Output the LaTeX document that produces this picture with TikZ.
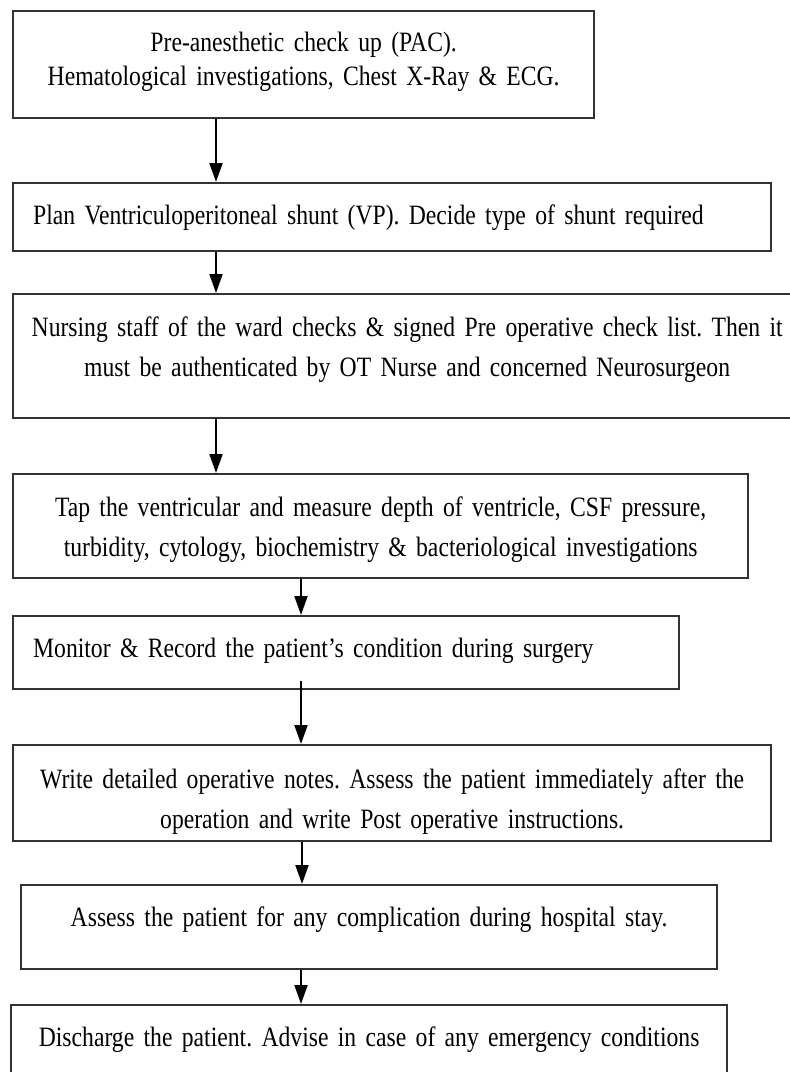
\documentclass[tikz,border=0pt]{standalone}
\usepackage{fontspec}
\setmainfont[FakeStretch=0.845, WordSpace=0.8]{Liberation Serif}
\usetikzlibrary{arrows.meta}

\tikzset{
  flowbox/.style={draw=black!80, line width=2.3pt, anchor=north west,
    inner ysep=0pt, font=\fontsize{28}{40}\selectfont\frenchspacing},
  midbox/.style={flowbox, inner xsep=10pt, align=center},
  leftbox/.style={flowbox, inner xsep=20pt, align=left},
  flowarrow/.style={line width=2pt, -{Triangle[length=19pt,width=13pt]}}
}

\begin{document}
\begin{tikzpicture}[x=1pt, y=-1pt]
  \useasboundingbox (0,0) rectangle (790,1072);

  % Steps
  \node[midbox, text width=561pt, text height=40pt, text depth=67pt] (pac) at (12,10)
    {Pre-anesthetic check up (PAC).\\[-5.5pt]Hematological investigations, Chest X-Ray \& ECG.};
  \node[leftbox, text width=718pt, text height=41pt, text depth=27pt] (plan) at (12,182)
    {Plan Ventriculoperitoneal shunt (VP). Decide type of shunt required};
  \node[midbox, text width=768pt, text height=42pt, text depth=82pt] (nurse) at (12,293)
    {Nursing staff of the ward checks \& signed Pre operative check list. Then it\\must be authenticated by OT Nurse and concerned Neurosurgeon};
  \node[midbox, text width=715pt, text height=42pt, text depth=62pt] (tap) at (12,473)
    {Tap the ventricular and measure depth of ventricle, CSF pressure,\\turbidity, cytology, biochemistry \& bacteriological investigations};
  \node[leftbox, text width=626pt, text height=41pt, text depth=32pt] (monitor) at (12,615)
    {Monitor \& Record the patient’s condition during surgery};
  \node[midbox, text width=738pt, text height=43pt, text depth=53pt] (notes) at (12,744)
    {Write detailed operative notes. Assess the patient immediately after the\\operation and write Post operative instructions.};
  \node[midbox, text width=676pt, text height=41pt, text depth=43pt] (assess) at (20,884)
    {Assess the patient for any complication during hospital stay.};
  \node[midbox, text width=696pt, text height=41pt, text depth=50pt] (discharge) at (10,1004)
    {Discharge the patient. Advise in case of any emergency conditions};

  % Arrows
  \draw[flowarrow] ([xshift=204pt]pac.south west) -- ([xshift=204pt]plan.north west);
  \draw[flowarrow] ([xshift=204pt]plan.south west) -- ([xshift=204pt]nurse.north west);
  \draw[flowarrow] ([xshift=204pt]nurse.south west) -- ([xshift=204pt]tap.north west);
  \draw[flowarrow] ([xshift=289pt]tap.south west) -- ([xshift=289pt]monitor.north west);
  \draw[flowarrow] ([xshift=289pt,yshift=9pt]monitor.south west) -- ([xshift=289pt]notes.north west);
  \draw[flowarrow] ([xshift=290pt]notes.south west) -- ([xshift=282pt]assess.north west);
  \draw[flowarrow] ([xshift=281pt]assess.south west) -- ([xshift=291pt]discharge.north west);
\end{tikzpicture}
\end{document}
